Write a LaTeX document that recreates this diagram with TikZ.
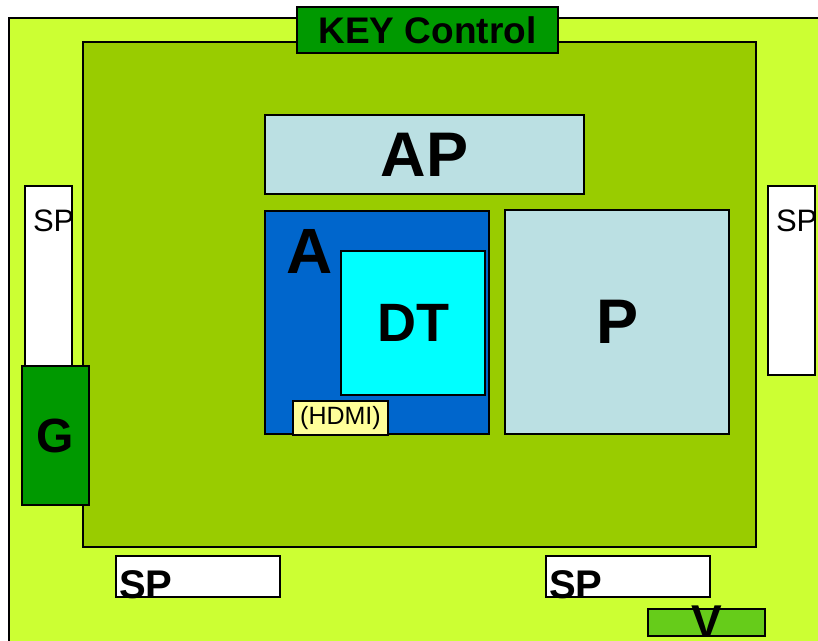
\documentclass[tikz,border=0pt]{standalone}
\usepackage{fontspec}
\setmainfont{Liberation Sans}
\definecolor{outergreen}{HTML}{CCFF33}
\definecolor{boardgreen}{HTML}{99CC00}
\definecolor{keygreen}{HTML}{009900}
\definecolor{paleblue}{HTML}{BBE0E3}
\definecolor{ablue}{HTML}{0066CC}
\definecolor{dtcyan}{HTML}{00FFFF}
\definecolor{hdmiyellow}{HTML}{FFFF99}
\definecolor{vgreen}{HTML}{66CC1A}
\tikzset{
  box/.style={draw=black, line width=1.8pt, inner sep=0pt, outer sep=0pt},
  lbl/.style={inner sep=0pt, outer sep=0pt, text=black},
}
\newcommand{\fs}[1]{\fontsize{#1}{#1}\selectfont}
\begin{document}
\begin{tikzpicture}[x=1pt,y=-1pt]
\useasboundingbox (0,0) rectangle (818,640);
\clip (0,0) rectangle (818,640);
% outer board
\node[box, fill=outergreen, anchor=north west, minimum width=830pt, minimum height=640pt] (outer) at (9,18) {};
% main board
\node[box, fill=boardgreen, anchor=north west, minimum width=673pt, minimum height=505pt] (board) at (83,42) {};
% key control
\node[box, fill=keygreen, anchor=north west, minimum width=261pt, minimum height=46pt, font=\fs{37}\bfseries] (key) at (297,7) {KEY Control};
% AP
\node[box, fill=paleblue, anchor=north west, minimum width=319pt, minimum height=79pt, font=\fs{63}\bfseries] (ap) at (265,115) {AP};
% A
\node[box, fill=ablue, anchor=north west, minimum width=224pt, minimum height=223pt] (a) at (265,211) {};
\node[lbl, anchor=base west, font=\fs{64}\bfseries] (atext) at (286,273) {A};
% DT
\node[box, fill=dtcyan, anchor=north west, minimum width=144pt, minimum height=144pt, font=\fs{54}\bfseries] (dt) at (341,251) {DT};
% HDMI
\node[box, fill=hdmiyellow, anchor=north west, minimum width=95pt, minimum height=34pt, font=\fs{25}] (hdmi) at (293,401) {(HDMI)};
% P
\node[box, fill=paleblue, anchor=north west, minimum width=224pt, minimum height=224pt, font=\fs{63}\bfseries] (p) at (505,210) {P};
% left SP
\node[box, fill=white, anchor=north west, minimum width=47pt, minimum height=181pt] (spl) at (25,186) {};
\node[lbl, anchor=base west, font=\fs{31}] (spltext) at (33,231) {SP};
% G
\node[box, fill=keygreen, anchor=north west, minimum width=67pt, minimum height=139pt, font=\fs{48}\bfseries] (g) at (22,366) {G};
% right SP
\node[box, fill=white, anchor=north west, minimum width=47pt, minimum height=189pt] (spr) at (768,186) {};
\node[lbl, anchor=base west, font=\fs{31}] (sprtext) at (776,231) {SP};
% bottom SPs
\node[box, fill=white, anchor=north west, minimum width=164pt, minimum height=41pt] (spb1) at (116,556) {};
\node[lbl, anchor=base west, font=\fs{40}\bfseries] (spb1text) at (119,598) {SP};
\node[box, fill=white, anchor=north west, minimum width=164pt, minimum height=41pt] (spb2) at (546,556) {};
\node[lbl, anchor=base west, font=\fs{40}\bfseries] (spb2text) at (549,598) {SP};
% V
\node[box, fill=vgreen, anchor=north west, minimum width=117pt, minimum height=27pt] (v) at (648,609) {};
\node[lbl, anchor=base, font=\fs{46}\bfseries] (vtext) at (707,637) {V};
\end{tikzpicture}
\end{document}
